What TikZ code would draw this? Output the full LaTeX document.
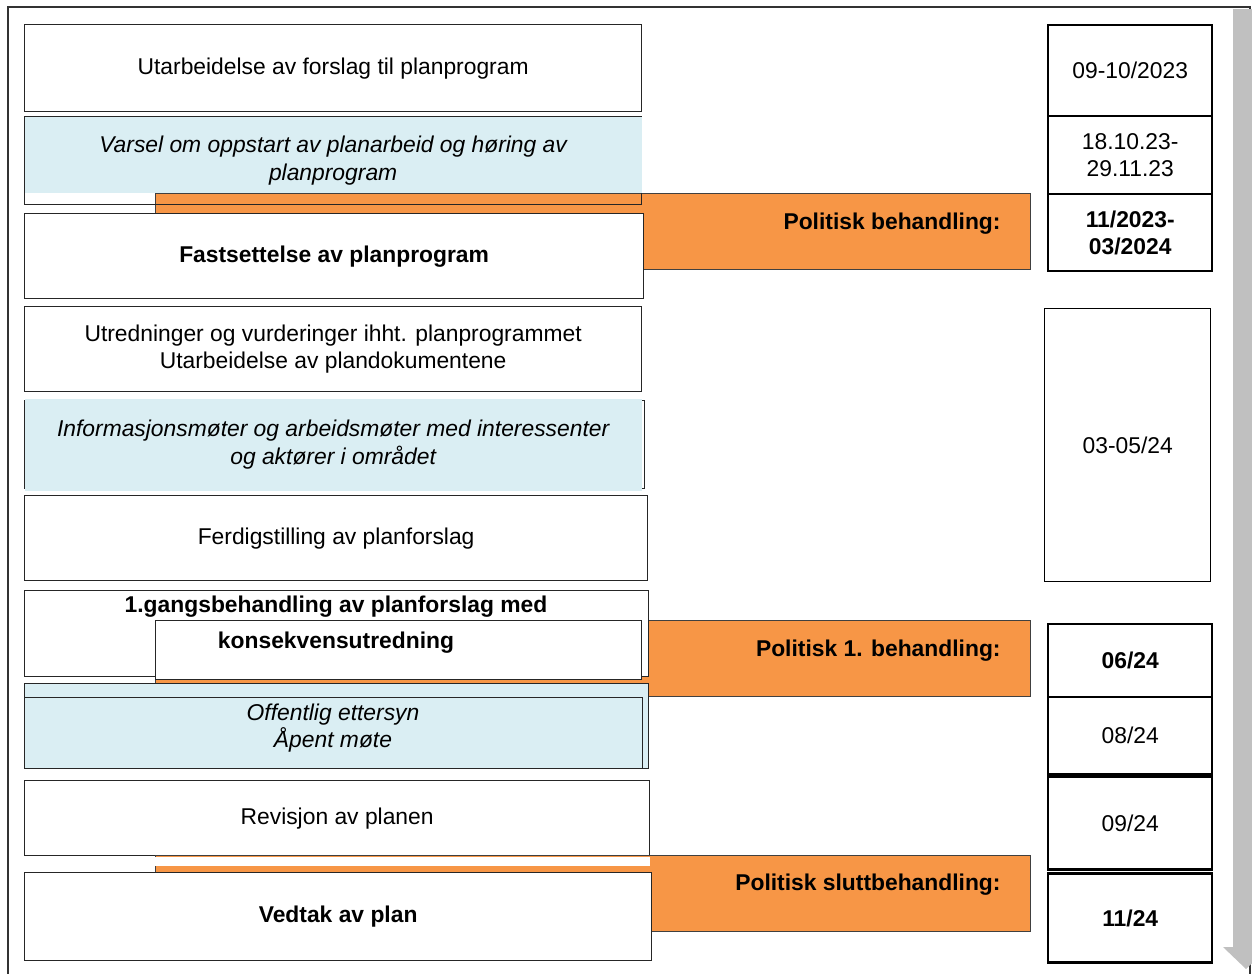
\documentclass[tikz,border=0pt]{standalone}
\usepackage{fontspec}
\setmainfont{Liberation Sans}
\usetikzlibrary{positioning}

\definecolor{polorange}{HTML}{F79646}
\definecolor{infoblue}{HTML}{DAEEF3}
\definecolor{bargray}{HTML}{C0C0C0}

\begin{document}
\begin{tikzpicture}[
	x=0.02cm, y=-0.02cm,
	font=\fontsize{13}{15.5}\selectfont,
	boldtext/.style={font=\fontsize{13}{15.5}\selectfont\bfseries},
	ittext/.style={font=\fontsize{13}{15.5}\selectfont\itshape},
	stepbox/.style={draw=black!85,line width=0.8pt,fill=white,rectangle,anchor=north west,inner sep=0pt,align=center,minimum width=12.34cm},
	bluebox/.style={stepbox,fill=infoblue},
	polbox/.style={draw=black!75,line width=0.6pt,fill=polorange,rectangle,anchor=north west,inner sep=0pt,minimum width=17.5cm,minimum height=1.52cm},
	poltext/.style={boldtext,inner sep=0pt},
	datebox/.style={draw,line width=1.4pt,fill=white,rectangle,inner sep=0pt,align=center,minimum width=3.28cm}
	]
	\useasboundingbox (0,0) rectangle (1252,974);
	\draw[line width=0.8pt,black!80] (8,7) rectangle (1250,1000);
	\fill[bargray] (1233,9) -- (1259,9) -- (1259,947) -- (1269,947) -- (1246,969) -- (1223,947) -- (1233,947) -- cycle;

	\node[stepbox,minimum height=1.74cm] (utarb) at (24,24) {Utarbeidelse av forslag til planprogram};
	\node[polbox] (pol1) at (155,193) {};
	\node[stepbox,fill=none,minimum height=1.76cm] (varsel) at (24,116) {};
	\node[stepbox,draw=none,fill=infoblue,minimum height=1.52cm] (varselbg) at (24,116) {};
	\node[ittext,align=center] (varseltxt) at (varsel.center) {Varsel om oppstart av planarbeid og høring av\\planprogram};
	\node[stepbox,boldtext,minimum width=12.38cm,minimum height=1.7cm] (fastsett) at (24,213) {Fastsettelse av planprogram};
	\node[poltext,below left=0.4cm and 0.6cm of pol1.north east] (pol1txt) {Politisk behandling:};

	\node[stepbox,minimum height=1.7cm] (utredn) at (24,306) {Utredninger og vurderinger ihht. planprogrammet\\Utarbeidelse av plandokumentene};
	\node[stepbox,fill=none,minimum width=12.4cm,minimum height=1.76cm] (infoframe) at (24,400) {};
	\node[bluebox,ittext,draw=none,minimum height=1.84cm] (info) at (24,398) {Informasjonsmøter og arbeidsmøter med interessenter\\og aktører i området};
	\node[stepbox,minimum width=12.46cm,minimum height=1.7cm] (ferdig) at (24,495) {Ferdigstilling av planforslag};

	\node[polbox] (pol2) at (155,620) {};
	\node[stepbox,minimum width=12.48cm,minimum height=1.72cm] (gang) at (24,590) {};
	\node[stepbox,minimum width=9.72cm,minimum height=1.18cm] (konsek) at (155,620) {};
	\node[boldtext,align=center] (gangtxt) at (336,625) {1.gangsbehandling av planforslag med\\[4.9pt]konsekvensutredning};
	\node[poltext,below left=0.4cm and 0.6cm of pol2.north east] (pol2txt) {Politisk 1. behandling:};

	\node[bluebox,minimum width=12.48cm,minimum height=1.7cm] (ettersyn) at (24,683) {};
	\node[bluebox,minimum width=12.36cm,minimum height=1.42cm] (moete) at (24,697) {};
	\node[ittext,align=center] (ettersyntxt) at (333,728) {Offentlig ettersyn\\Åpent møte};

	\node[stepbox,minimum width=12.5cm,minimum height=1.5cm] (revisjon) at (24,780) {Revisjon av planen};
	\node[polbox] (pol3) at (155,855) {};
	\fill[white] (153.5,856.5) rectangle (650,866);
	\node[stepbox,boldtext,minimum width=12.54cm,minimum height=1.76cm] (vedtak) at (24,872) {Vedtak av plan};
	\node[poltext,below left=0.38cm and 0.6cm of pol3.north east] (pol3txt) {Politisk sluttbehandling:};

	\node[datebox,minimum height=1.82cm,anchor=north west] (d1) at (1047,24) {09-10/2023};
	\node[datebox,minimum height=1.56cm,below=-1.4pt of d1] (d2) {18.10.23-\\29.11.23};
	\node[datebox,boldtext,minimum height=1.54cm,below=-1.4pt of d2] (d3) {11/2023-\\03/2024};
	\node[datebox,line width=0.8pt,minimum width=3.32cm,minimum height=5.46cm,anchor=north west] (d4) at (1044,308) {03-05/24};
	\node[datebox,boldtext,minimum height=1.46cm,anchor=north west] (d5) at (1047,623) {06/24};
	\node[datebox,minimum height=1.54cm,below=-1.4pt of d5] (d6) {08/24};
	\node[datebox,minimum height=1.86cm,below=0pt of d6] (d7) {09/24};
	\node[datebox,boldtext,minimum height=1.78cm,below=0.03cm of d7] (d8) {11/24};
\end{tikzpicture}
\end{document}
